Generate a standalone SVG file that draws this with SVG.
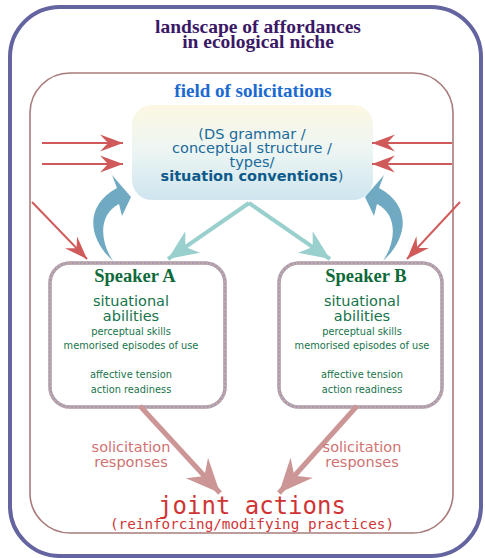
<svg xmlns="http://www.w3.org/2000/svg" width="485" height="558" viewBox="0 0 485 558">
<defs>
<linearGradient id="cg" x1="0" y1="0" x2="0" y2="1">
<stop offset="0" stop-color="#fcf7e2"/>
<stop offset="0.45" stop-color="#eef6f3"/>
<stop offset="1" stop-color="#cfe5ef"/>
</linearGradient>
<marker id="redHead" markerUnits="userSpaceOnUse" viewBox="-24 -10 26 20" markerWidth="26" markerHeight="20" refX="0" refY="0" orient="auto">
<path d="M0,0 L-23,-8.5 L-15,0 L-23,8.5 Z" fill="#d05a5a"/>
</marker>
<marker id="tealHead" markerUnits="userSpaceOnUse" viewBox="-32 -16 34 32" markerWidth="34" markerHeight="32" refX="0" refY="0" orient="auto">
<path d="M0,0 L-30,-13 L-21,0 L-30,13 Z" fill="#99cfcc"/>
</marker>
<marker id="mauveHead" markerUnits="userSpaceOnUse" viewBox="-36 -18 38 36" markerWidth="38" markerHeight="36" refX="0" refY="0" orient="auto">
<path d="M0,0 L-34,-15 L-23,0 L-34,15 Z" fill="#cc9696"/>
</marker>
</defs>
<style>
.title{font-family:"Liberation Serif",serif;font-weight:bold;text-anchor:middle}
.sans{font-family:"DejaVu Sans",Verdana,sans-serif;text-anchor:middle}
.mono{font-family:"DejaVu Sans Mono","Liberation Mono",monospace;text-anchor:middle;fill:#d03535}
.green{fill:#17734a}
.spk{fill:#0f6a3a}
.red{stroke:#d05a5a;stroke-width:2;fill:none;marker-end:url(#redHead)}
.teal{stroke:#99cfcc;stroke-width:4;fill:none;marker-end:url(#tealHead)}
.mauve{stroke:#cc9696;stroke-width:5;fill:none;marker-end:url(#mauveHead)}
.curl{fill:#70aac2}
.sbox{fill:#ffffff;stroke:#a89cb0;stroke-width:3.5}
.sdots{fill:none;stroke:#c8aaa6;stroke-width:3.5;stroke-dasharray:1.5 2.5}
.resp{fill:#d07272;font-size:14.5px}
</style>
<rect id="landscape" x="10" y="7" width="471" height="549" rx="50" fill="#ffffff" stroke="#6464a0" stroke-width="4"/>
<g id="landscape-label">
<text class="title" x="258" y="33" font-size="19.5" fill="#3a1866">landscape of affordances</text>
<text class="title" x="258" y="48" font-size="19.5" fill="#3a1866">in ecological niche</text>
</g>
<g id="field">
<rect x="30" y="73" width="423" height="460" rx="40" fill="none" stroke="#a87c7c" stroke-width="1.6"/>
<text class="title" x="253" y="97" font-size="19" fill="#1a6ad0">field of solicitations</text>
</g>
<g id="conventions">
<rect x="132" y="105" width="241" height="95" rx="20" fill="url(#cg)"/>
<text class="sans" x="252" y="139" font-size="14.5" fill="#1a6a9c">(DS grammar /</text>
<text class="sans" x="252" y="153" font-size="14.5" fill="#1a6a9c">conceptual structure /</text>
<text class="sans" x="252" y="167" font-size="14.5" fill="#1a6a9c">types/</text>
<text class="sans" x="252" y="181" font-size="14.5" fill="#1a6a9c"><tspan font-weight="bold" fill="#0d5a8a">situation conventions</tspan>)</text>
</g>
<g id="speakerA">
<rect class="sbox" x="50" y="263" width="175" height="144" rx="20"/>
<rect class="sdots" x="50" y="263" width="175" height="144" rx="20"/>
<text class="title spk" x="135" y="282" font-size="18.5">Speaker A</text>
<text class="sans green" x="131" y="306" font-size="14.5">situational</text>
<text class="sans green" x="131" y="321" font-size="14.5">abilities</text>
<text class="sans green" x="131" y="335" font-size="9.8">perceptual skills</text>
<text class="sans green" x="131" y="349" font-size="9.8">memorised episodes of use</text>
<text class="sans green" x="131" y="378" font-size="9.8">affective tension</text>
<text class="sans green" x="131" y="393" font-size="9.8">action readiness</text>
</g>
<g id="speakerB">
<rect class="sbox" x="279" y="263" width="163" height="144" rx="20"/>
<rect class="sdots" x="279" y="263" width="163" height="144" rx="20"/>
<text class="title spk" x="366" y="282" font-size="18.5">Speaker B</text>
<text class="sans green" x="362" y="306" font-size="14.5">situational</text>
<text class="sans green" x="362" y="321" font-size="14.5">abilities</text>
<text class="sans green" x="362" y="335" font-size="9.8">perceptual skills</text>
<text class="sans green" x="362" y="349" font-size="9.8">memorised episodes of use</text>
<text class="sans green" x="362" y="378" font-size="9.8">affective tension</text>
<text class="sans green" x="362" y="393" font-size="9.8">action readiness</text>
</g>
<g id="joint-actions">
<text class="mono" x="252" y="514" font-size="24">joint actions</text>
<text class="mono" x="252" y="529" font-size="14.3">(reinforcing/modifying practices)</text>
</g>
<g id="connectors">
<line class="red" x1="42" y1="143" x2="123" y2="143"/>
<line class="red" x1="42" y1="164" x2="123" y2="164"/>
<line class="red" x1="452" y1="143" x2="372" y2="143"/>
<line class="red" x1="452" y1="164" x2="372" y2="164"/>
<line class="red" x1="32" y1="202" x2="87" y2="259"/>
<line class="red" x1="460" y1="202" x2="407" y2="259"/>
<path class="teal" d="M249,203 L168,259"/>
<path class="teal" d="M249,203 L330,259"/>
<path class="curl" d="M113,261 C88,238 84,206 117,188 L112,175 L131,197 L122,216 L119,204 C99,214 99,240 113,261 Z"/>
<path class="curl" transform="translate(496,0) scale(-1,1)" d="M113,261 C88,238 84,206 117,188 L112,175 L131,197 L122,216 L119,204 C99,214 99,240 113,261 Z"/>
<path class="mauve" d="M140,406 L220,493"/>
<path class="mauve" d="M357,406 L279,493"/>
<text class="sans resp" x="131" y="452">solicitation</text>
<text class="sans resp" x="131" y="467">responses</text>
<text class="sans resp" x="362" y="452">solicitation</text>
<text class="sans resp" x="362" y="467">responses</text>
</g>
</svg>
